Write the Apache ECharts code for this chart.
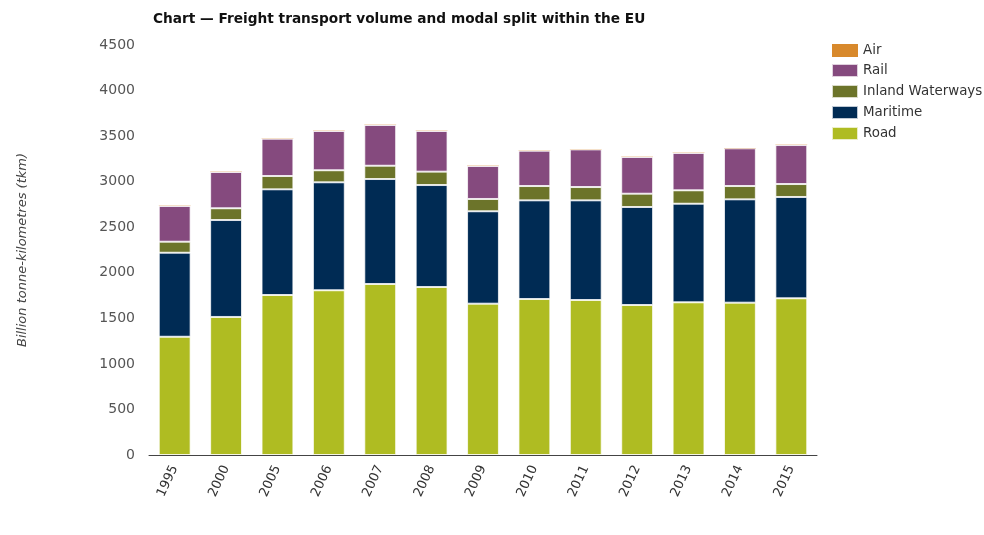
<!DOCTYPE html>
<html>
<head>
<meta charset="utf-8">
<script src="https://cdn.jsdelivr.net/npm/echarts@6/dist/echarts.min.js"></script>
<style>
  html, body { margin: 0; padding: 0; background: #fff; }
  #main { width: 984px; height: 535px; }
</style>
</head>
<body>
<div id="main"></div>
<script>
'use strict'

// years on the x axis
const years = ['1995', '2000', '2005', '2006', '2007', '2008', '2009', '2010', '2011', '2012', '2013', '2014', '2015'];

// billion tkm
const road     = [1298, 1515, 1756, 1808, 1877, 1844, 1661, 1712, 1701, 1646, 1676, 1672, 1720];
const maritime = [922, 1064, 1160, 1185, 1152, 1119, 1014, 1083, 1094, 1076, 1082, 1134, 1112];
const inland   = [121, 129, 146, 132, 146, 147, 135, 157, 146, 146, 147, 146, 142];
const rail     = [392, 398, 410, 431, 447, 446, 362, 388, 413, 403, 410, 414, 428];
const air      = [3, 3, 3, 3, 3, 3, 3, 3, 3, 3, 3, 3, 3];

const legendOrder = ['Air', 'Rail', 'Inland Waterways', 'Maritime', 'Road'];

var myChart = echarts.init(document.getElementById('main'));

// one stacked bar series per mode
function makeSeries(name, values, color, border) {
  return {
    name: name,
    type: 'bar',
    stack: 'total',
    barWidth: '62%',
    data: values,
    itemStyle: {
      color: color,
      borderColor: 'rgba(255,255,255,0.75)',
      borderWidth: border
    },
    emphasis: { disabled: true }
  };
}

var option = {
  animation: false,
  textStyle: { fontFamily: 'DejaVu Sans' },
  title: {
    text: 'Chart \u2014 Freight transport volume and modal split within the EU',
    left: 148,
    top: 7,
    textStyle: { fontSize: 13.7, fontWeight: 'bold', color: '#111' }
  },
  legend: {
    data: legendOrder,
    orient: 'vertical',
    icon: 'rect',
    left: 826,
    top: 39,
    itemWidth: 26,
    itemHeight: 13,
    itemGap: 6,
    textStyle: { fontSize: 13.4, color: '#333' }
  },
  grid: { left: 149, right: 167, top: 45, bottom: 80 },
  xAxis: {
    type: 'category',
    data: years,
    axisLine: { lineStyle: { color: '#444', width: 1 } },
    axisTick: { show: false },
    axisLabel: { rotate: 65, fontSize: 13, color: '#333', margin: 11 }
  },
  yAxis: {
    type: 'value',
    min: 0,
    max: 4500,
    interval: 500,
    name: 'Billion tonne-kilometres (tkm)',
    nameLocation: 'middle',
    nameGap: 120,
    nameTextStyle: { fontStyle: 'italic', fontSize: 13, color: '#444' },
    axisLine: { show: false },
    axisTick: { show: false },
    splitLine: { show: false },
    axisLabel: {
      fontSize: 14,
      color: '#555',
      margin: 14,
      formatter: function (v) { return String(v); }
    }
  },
  series: [
    makeSeries('Road', road, '#afbc22', 1),
    makeSeries('Maritime', maritime, '#002b54', 1),
    makeSeries('Inland Waterways', inland, '#6c742a', 1),
    makeSeries('Rail', rail, '#854a7e', 1),
    makeSeries('Air', air, '#d8892c', 0)
  ]
};

myChart.setOption(option);
</script>
</body>
</html>
